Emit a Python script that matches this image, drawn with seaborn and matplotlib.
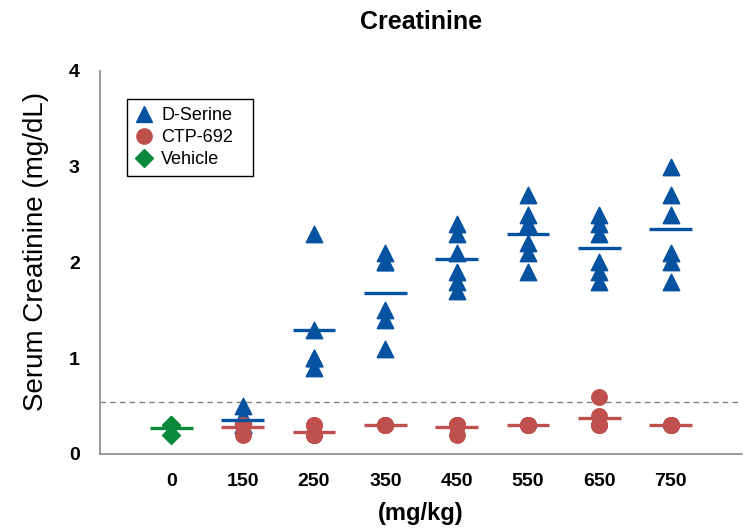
#!/usr/bin/env python3
"""
Serum creatinine by dose: individual values with group means.
"""

import pandas as pd
import matplotlib
matplotlib.use("Agg")
import matplotlib.pyplot as plt
import seaborn as sns
from matplotlib.lines import Line2D

# Dose groups (mg/kg) shown on the x axis
doses = ["0", "150", "250", "350", "450", "550", "650", "750"]

# Individual serum creatinine values (mg/dL)
vehicle = {"0": [0.3, 0.2, 0.3]}
d_serine = {
    "150": [0.5, 0.4, 0.3, 0.3, 0.3],
    "250": [2.3, 1.3, 1.0, 1.0, 0.9],
    "350": [2.1, 2.0, 2.0, 1.5, 1.4, 1.1],
    "450": [2.4, 2.3, 2.1, 1.9, 1.8, 1.7],
    "550": [2.7, 2.5, 2.4, 2.2, 2.1, 1.9],
    "650": [2.5, 2.4, 2.3, 2.0, 1.9, 1.8],
    "750": [3.0, 2.7, 2.5, 2.1, 2.0, 1.8],
}
ctp_692 = {
    "150": [0.3, 0.3, 0.2, 0.3, 0.3],
    "250": [0.3, 0.2, 0.2, 0.2, 0.2, 0.3],
    "350": [0.3, 0.3, 0.3, 0.3, 0.3],
    "450": [0.3, 0.3, 0.3, 0.3, 0.3, 0.2],
    "550": [0.3, 0.3, 0.3, 0.3, 0.3],
    "650": [0.6, 0.4, 0.3, 0.3, 0.3],
    "750": [0.3, 0.3, 0.3, 0.3, 0.3],
}
threshold = 0.54

groups = ["D-Serine", "CTP-692", "Vehicle"]
colors = {"D-Serine": "#0553A0", "CTP-692": "#C0504D", "Vehicle": "#0A893D"}
markers = {"D-Serine": "^", "CTP-692": "o", "Vehicle": "D"}
sizes = {"D-Serine": 135, "CTP-692": 120, "Vehicle": 80}


def build_frame():
    rows = []
    for name, table in [("D-Serine", d_serine), ("CTP-692", ctp_692), ("Vehicle", vehicle)]:
        for dose, vals in table.items():
            for v in vals:
                rows.append({"group": name, "dose": dose,
                             "x": doses.index(dose), "value": v})
    return pd.DataFrame(rows)


def main():
    df = build_frame()

    sns.set_style("white")
    plt.rcParams["font.family"] = ["Liberation Sans", "DejaVu Sans"]
    plt.rcParams["text.color"] = "black"
    plt.rcParams["axes.labelcolor"] = "black"

    fig = plt.figure(figsize=(7.49, 5.29), dpi=100)
    ax = fig.add_axes([0.1335, 0.1418, 0.857, 0.724])

    # reference line
    ax.axhline(threshold, color="#808080", lw=1.0, ls=(0, (4, 3)), zorder=1)

    for g in groups:
        sub = df[df["group"] == g]
        sns.scatterplot(data=sub, x="x", y="value", marker=markers[g],
                        color=colors[g], s=sizes[g], edgecolor=colors[g],
                        linewidth=1.2, legend=False, ax=ax, zorder=3)
    for coll in ax.collections:
        coll.set_joinstyle("round")

    # group means
    means = df.groupby(["group", "x"])["value"].mean().reset_index()
    for _, r in means.iterrows():
        ax.hlines(r["value"], r["x"] - 0.3, r["x"] + 0.3,
                  color=colors[r["group"]], lw=2.4, zorder=4)

    ax.set_xlim(-1, 8)
    ax.set_ylim(0, 4)
    ax.set_xticks(range(-1, 9))
    ax.set_xticklabels([""] + doses + [""])
    ax.set_yticks([0, 1, 2, 3, 4])

    sns.despine(ax=ax)
    for side in ["left", "bottom"]:
        ax.spines[side].set_color("#808080")
        ax.spines[side].set_linewidth(1.1)

    ax.tick_params(axis="x", direction="out", length=6, width=1.1,
                   color="#808080", labelcolor="black", pad=8, labelsize=14)
    ax.tick_params(axis="y", direction="out", length=4, width=1.1,
                   color="#808080", labelcolor="black", pad=10.5, labelsize=14)
    for lab in ax.get_xticklabels() + ax.get_yticklabels():
        lab.set_fontweight("bold")

    ax.set_title("Creatinine", fontsize=18, fontweight="bold", pad=30)
    ax.set_ylabel("Serum Creatinine (mg/dL)", fontsize=20)
    ax.yaxis.set_label_coords(-0.079, 0.53)
    ax.set_xlabel("(mg/kg)", fontsize=17, fontweight="bold", labelpad=8)

    handles = [Line2D([], [], ls="none", marker=markers[g], color=colors[g],
                      markersize=11 if g != "Vehicle" else 9) for g in groups]
    leg_w = 0.196
    leg_h = 0.196
    leg = ax.legend(handles, groups, loc="upper left",
                    bbox_to_anchor=(0.042, 0.927 - leg_h, leg_w, leg_h),
                    mode="expand", borderaxespad=0,
                    fontsize=13, frameon=True, fancybox=False,
                    edgecolor="black", framealpha=1, handlelength=1.0,
                    handletextpad=0.45, labelspacing=0.28, borderpad=0.45)
    leg.get_frame().set_linewidth(1.0)

    fig.savefig("out.png", dpi=100)


if __name__ == "__main__":
    main()
